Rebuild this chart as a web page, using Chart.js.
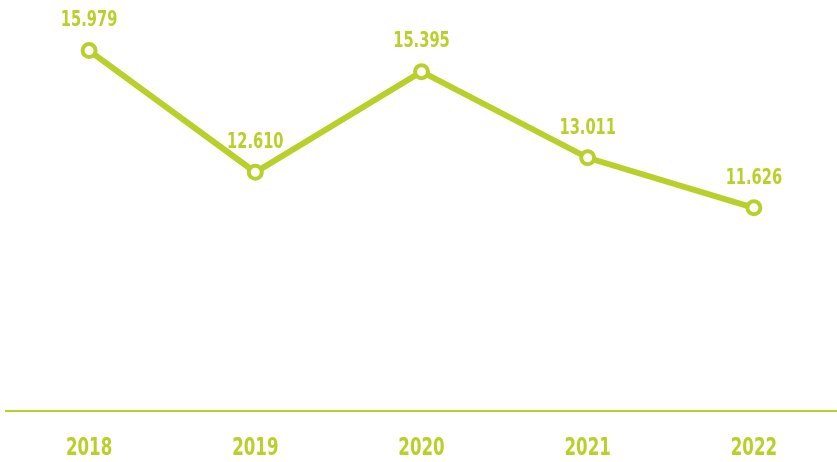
<!DOCTYPE html>
<html>
<head>
<meta charset="utf-8">
<style>
  html, body { margin: 0; padding: 0; background: #ffffff; }
  #chart { display: block; }
</style>
<script src="https://cdn.jsdelivr.net/npm/chart.js@4/dist/chart.umd.min.js"></script>
</head>
<body>
<canvas id="chart" width="837" height="462"></canvas>
<script>
// Data
const years = ['2018', '2019', '2020', '2021', '2022'];
const values = [15.979, 12.610, 15.395, 13.011, 11.626];

const green = '#b9d02b';
const family = "'DejaVu Sans Condensed', 'Liberation Sans Narrow', sans-serif";
const squeeze = 0.74; // the original uses a condensed face, so narrow the glyphs a bit

function drawNarrow(ctx, text, x, y, size) {
    ctx.save();
    ctx.font = 'bold ' + size + 'px ' + family;
    ctx.fillStyle = green;
    ctx.textAlign = 'center';
    ctx.textBaseline = 'middle';
    ctx.translate(x, y);
    ctx.scale(squeeze, 1);
    ctx.fillText(text, 0, 0);
    ctx.restore();
}

// value labels above points + year labels under the axis
const textLayer = {
    id: 'textLayer',
    afterDatasetsDraw(chart) {
        const ctx = chart.ctx;
        const meta = chart.getDatasetMeta(0);
        meta.data.forEach((pt, i) => {
            drawNarrow(ctx, values[i].toFixed(3), pt.x, pt.y - 30, 22);
        });
        const xs = chart.scales.x;
        years.forEach((y, i) => {
            drawNarrow(ctx, y, xs.getPixelForTick(i), xs.bottom - 14, 25);
        });
    }
};

const ctx = document.getElementById('chart').getContext('2d');
new Chart(ctx, {
    type: 'line',
    data: {
        labels: years,
        datasets: [{
            data: values,
            borderColor: green,
            borderWidth: 6,
            pointRadius: 6.5,
            pointBorderWidth: 4,
            pointBackgroundColor: '#ffffff',
            pointBorderColor: green,
            tension: 0,
            clip: false
        }]
    },
    options: {
        responsive: false,
        animation: false,
        layout: { autoPadding: false, padding: { left: 6, right: -2, top: 0, bottom: 0 } },
        plugins: {
            legend: { display: false },
            tooltip: { enabled: false }
        },
        scales: {
            x: {
                offset: true,
                grid: { display: false, drawTicks: false },
                border: { display: true, color: green, width: 2 },
                ticks: { color: 'rgba(0,0,0,0)' },
                afterFit(scale) { scale.height = 51; }
            },
            y: {
                display: false,
                min: 6,
                max: 17.38
            }
        }
    },
    plugins: [textLayer]
});
</script>
</body>
</html>
